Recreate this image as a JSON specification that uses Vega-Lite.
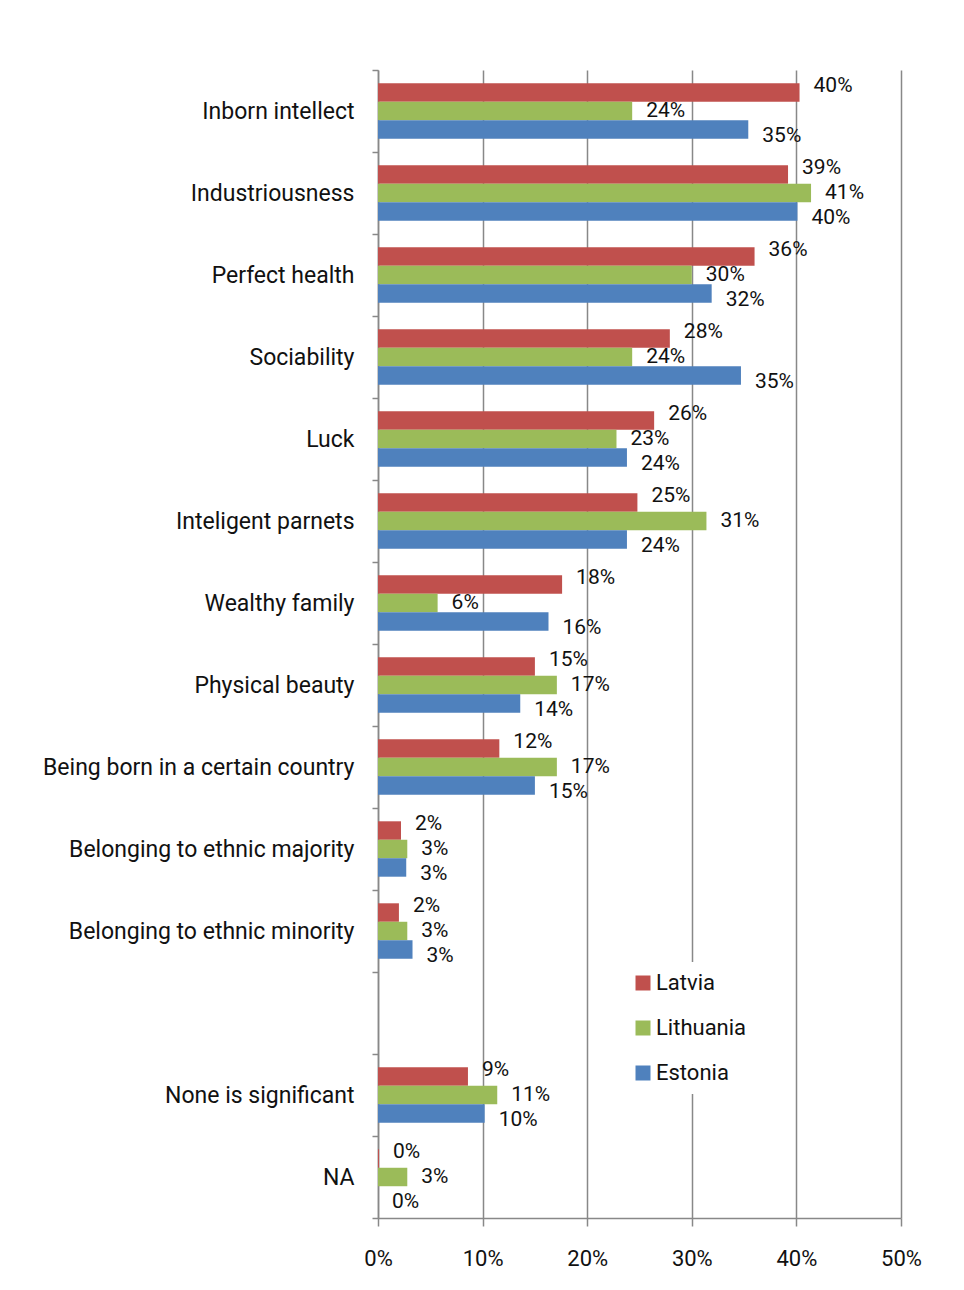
{
  "$schema": "https://vega.github.io/schema/vega-lite/v6.json",
  "width": 523,
  "height": 1148,
  "autosize": {"type": "none"},
  "padding": {"left": 378, "top": 70, "right": 63, "bottom": 72},
  "background": "white",
  "config": {
    "font": "Roboto",
    "view": {"stroke": null},
    "axis": {"domainColor": "#888888", "tickColor": "#888888", "gridColor": "#888888", "domainWidth": 1.5, "tickWidth": 1.5, "gridWidth": 1.5, "labelColor": "#111111", "labelFont": "Roboto"}
  },
  "data": {
    "values": [
      {"item": "Inborn intellect", "country": "Latvia", "value": 0.403},
      {"item": "Inborn intellect", "country": "Lithuania", "value": 0.243},
      {"item": "Inborn intellect", "country": "Estonia", "value": 0.354},
      {"item": "Industriousness", "country": "Latvia", "value": 0.392},
      {"item": "Industriousness", "country": "Lithuania", "value": 0.414},
      {"item": "Industriousness", "country": "Estonia", "value": 0.401},
      {"item": "Perfect health", "country": "Latvia", "value": 0.360},
      {"item": "Perfect health", "country": "Lithuania", "value": 0.300},
      {"item": "Perfect health", "country": "Estonia", "value": 0.319},
      {"item": "Sociability", "country": "Latvia", "value": 0.279},
      {"item": "Sociability", "country": "Lithuania", "value": 0.243},
      {"item": "Sociability", "country": "Estonia", "value": 0.347},
      {"item": "Luck", "country": "Latvia", "value": 0.264},
      {"item": "Luck", "country": "Lithuania", "value": 0.228},
      {"item": "Luck", "country": "Estonia", "value": 0.238},
      {"item": "Inteligent parnets", "country": "Latvia", "value": 0.248},
      {"item": "Inteligent parnets", "country": "Lithuania", "value": 0.314},
      {"item": "Inteligent parnets", "country": "Estonia", "value": 0.238},
      {"item": "Wealthy family", "country": "Latvia", "value": 0.176},
      {"item": "Wealthy family", "country": "Lithuania", "value": 0.057},
      {"item": "Wealthy family", "country": "Estonia", "value": 0.163},
      {"item": "Physical beauty", "country": "Latvia", "value": 0.150},
      {"item": "Physical beauty", "country": "Lithuania", "value": 0.171},
      {"item": "Physical beauty", "country": "Estonia", "value": 0.136},
      {"item": "Being born in a certain country", "country": "Latvia", "value": 0.116},
      {"item": "Being born in a certain country", "country": "Lithuania", "value": 0.171},
      {"item": "Being born in a certain country", "country": "Estonia", "value": 0.150},
      {"item": "Belonging to ethnic majority", "country": "Latvia", "value": 0.022},
      {"item": "Belonging to ethnic majority", "country": "Lithuania", "value": 0.028},
      {"item": "Belonging to ethnic majority", "country": "Estonia", "value": 0.027},
      {"item": "Belonging to ethnic minority", "country": "Latvia", "value": 0.020},
      {"item": "Belonging to ethnic minority", "country": "Lithuania", "value": 0.028},
      {"item": "Belonging to ethnic minority", "country": "Estonia", "value": 0.033},
      {"item": "None is significant", "country": "Latvia", "value": 0.086},
      {"item": "None is significant", "country": "Lithuania", "value": 0.114},
      {"item": "None is significant", "country": "Estonia", "value": 0.102},
      {"item": "NA", "country": "Latvia", "value": 0.001},
      {"item": "NA", "country": "Lithuania", "value": 0.028},
      {"item": "NA", "country": "Estonia", "value": 0.0}
    ]
  },
  "encoding": {
    "y": {
      "field": "item",
      "type": "nominal",
      "sort": null,
      "scale": {
        "domain": ["Inborn intellect", "Industriousness", "Perfect health", "Sociability", "Luck", "Inteligent parnets", "Wealthy family", "Physical beauty", "Being born in a certain country", "Belonging to ethnic majority", "Belonging to ethnic minority", " ", "None is significant", "NA"],
        "paddingInner": 0,
        "paddingOuter": 0
      },
      "axis": {"title": null, "tickBand": "extent", "tickSize": 6, "labelPadding": 18, "labelFontSize": 23, "grid": false, "labelLimit": 400}
    },
    "x": {
      "field": "value",
      "type": "quantitative",
      "scale": {"domain": [0, 0.5], "nice": false},
      "axis": {"title": null, "format": ".0%", "values": [0, 0.1, 0.2, 0.3, 0.4, 0.5], "grid": true, "tickSize": 8, "labelPadding": 22, "labelFontSize": 22, "labelFlush": false}
    }
  },
  "resolve": {"scale": {"yOffset": "independent"}},
  "layer": [
    {
      "mark": {"type": "bar", "strokeWidth": 0},
      "encoding": {
        "yOffset": {
          "field": "country",
          "type": "nominal",
          "sort": ["Latvia", "Lithuania", "Estonia"],
          "scale": {"domain": ["Latvia", "Lithuania", "Estonia"], "paddingInner": 0, "paddingOuter": 0.72}
        },
        "color": {
          "field": "country",
          "type": "nominal",
          "sort": ["Latvia", "Lithuania", "Estonia"],
          "scale": {"domain": ["Latvia", "Lithuania", "Estonia"], "range": ["#C0504D", "#9BBB59", "#4F81BD"]},
          "legend": {
            "title": null,
            "orient": "none",
            "legendX": 244,
            "legendY": 892,
            "symbolType": "square",
            "symbolSize": 225,
            "symbolStrokeWidth": 0,
            "labelFontSize": 22,
            "labelColor": "#111111",
            "labelOffset": 2,
            "rowPadding": 23,
            "padding": 10,
            "fillColor": "white"
          }
        }
      }
    },
    {
      "mark": {"type": "text", "align": "left", "baseline": "middle", "dx": 14, "fontSize": 21, "color": "#111111"},
      "encoding": {
        "yOffset": {
          "field": "country",
          "type": "nominal",
          "sort": ["Latvia", "Lithuania", "Estonia"],
          "scale": {"type": "point", "domain": ["Latvia", "Lithuania", "Estonia"], "padding": 0.67}
        },
        "text": {"field": "value", "type": "quantitative", "format": ".0%"}
      }
    }
  ]
}
